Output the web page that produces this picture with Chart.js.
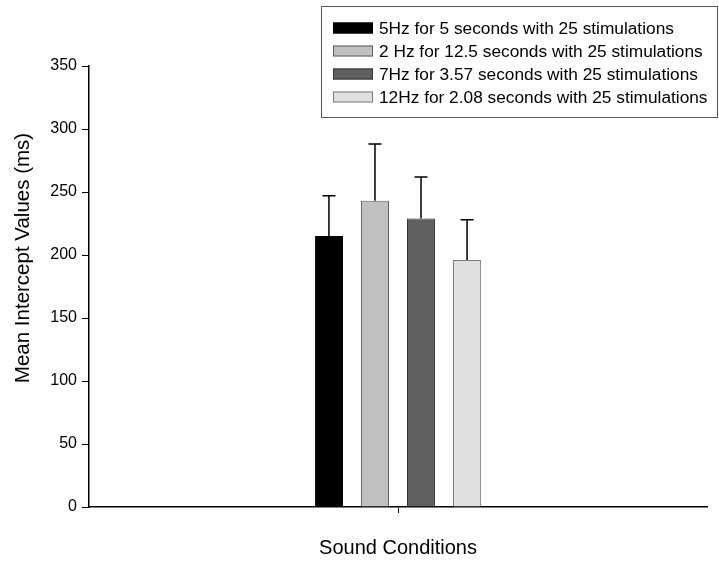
<!DOCTYPE html>
<html>
<head>
<meta charset="utf-8">
<script src="https://cdn.jsdelivr.net/npm/chart.js@4"></script>
<style>
  html, body { margin: 0; padding: 0; background: #fff; }
  #wrap { width: 719px; height: 562px; position: relative; }
</style>
</head>
<body>
<div id="wrap"><canvas id="chart"></canvas></div>
<script>
const categories = [''];
const seriesLabels = [
    '5Hz for 5 seconds with 25 stimulations',
    '2 Hz for 12.5 seconds with 25 stimulations',
    '7Hz for 3.57 seconds with 25 stimulations',
    '12Hz for 2.08 seconds with 25 stimulations'
];
const meanValues = [215, 243, 229, 196];
const errorValues = [32, 45, 33, 32];
const yTicks = [0, 50, 100, 150, 200, 250, 300, 350];

const barColors = ['#000000', '#c0c0c0', '#606060', '#e0e0e0'];
const barBorders = ['#000000', '#606060', '#333333', '#7a7a7a'];
const FONT = 'Arial, "Liberation Sans", sans-serif';

// error bars (upper half only, like the original)
const errorBars = {
    id: 'errorBars',
    afterDatasetsDraw(chart) {
        const ctx = chart.ctx;
        const y = chart.scales.y;
        ctx.save();
        ctx.strokeStyle = '#000';
        ctx.lineWidth = 1.5;
        chart.data.datasets.forEach((ds, i) => {
            const meta = chart.getDatasetMeta(i);
            meta.data.forEach((bar, j) => {
                const top = y.getPixelForValue(ds.data[j] + ds.errors[j]);
                ctx.beginPath();
                ctx.moveTo(bar.x, bar.y);
                ctx.lineTo(bar.x, top);
                ctx.moveTo(bar.x - 6.5, top);
                ctx.lineTo(bar.x + 6.5, top);
                ctx.stroke();
            });
        });
        ctx.restore();
    }
};

// boxed legend in the top right corner + rotated y title
const boxLegend = {
    id: 'boxLegend',
    afterDraw(chart) {
        const ctx = chart.ctx;
        ctx.save();
        ctx.strokeStyle = '#555';
        ctx.lineWidth = 1;
        ctx.strokeRect(321.5, 6.5, 396, 111);
        ctx.font = '17.3px ' + FONT;
        ctx.textBaseline = 'middle';
        ctx.textAlign = 'left';
        chart.data.datasets.forEach((ds, i) => {
            const cy = 28 + i * 23;
            ctx.fillStyle = ds.backgroundColor;
            ctx.fillRect(333, cy - 5.5, 40, 11);
            ctx.strokeStyle = ds.borderColor;
            ctx.strokeRect(333.5, cy - 5, 39, 10);
            ctx.fillStyle = '#000';
            ctx.fillText(ds.label, 379, cy + 1);
        });
        ctx.translate(23, 258);
        ctx.rotate(-Math.PI / 2);
        ctx.textAlign = 'center';
        ctx.font = '20.5px ' + FONT;
        ctx.fillText('Mean Intercept Values (ms)', 0, 0);
        ctx.restore();
    }
};

new Chart(document.getElementById('chart'), {
    type: 'bar',
    data: {
        labels: categories,
        datasets: seriesLabels.map((label, i) => ({
            label: label,
            data: [meanValues[i]],
            errors: [errorValues[i]],
            backgroundColor: barColors[i],
            borderColor: barBorders[i],
            borderWidth: 1,
            borderSkipped: 'bottom',
            categoryPercentage: 0.298,
            barPercentage: 0.61
        }))
    },
    options: {
        responsive: true, maintainAspectRatio: false, animation: false,
        layout: { padding: { top: 66, right: 12, left: 0, bottom: 0 } },
        plugins: { legend: { display: false }, tooltip: { enabled: false } },
        scales: {
            x: {
                offset: true,
                afterFit: s => { s.height = 55; },
                grid: { offset: false, drawOnChartArea: false, tickLength: 6, color: '#000' },
                border: { color: '#000', width: 1.5 },
                ticks: { display: true, font: { size: 1 } },
                title: { display: true, text: 'Sound Conditions', color: '#000', font: { family: FONT, size: 20 }, padding: { top: 0, bottom: 2 } }
            },
            y: {
                min: 0, max: 350,
                afterFit: s => { s.width = 89; },
                afterBuildTicks: s => { s.ticks = yTicks.map(v => ({ value: v })); },
                grid: { drawOnChartArea: false, tickLength: 7, color: '#000' },
                border: { color: '#000', width: 1.5 },
                ticks: { color: '#000', padding: 5, font: { family: FONT, size: 16 } }
            }
        }
    },
    plugins: [errorBars, boxLegend]
});
</script>
</body>
</html>
